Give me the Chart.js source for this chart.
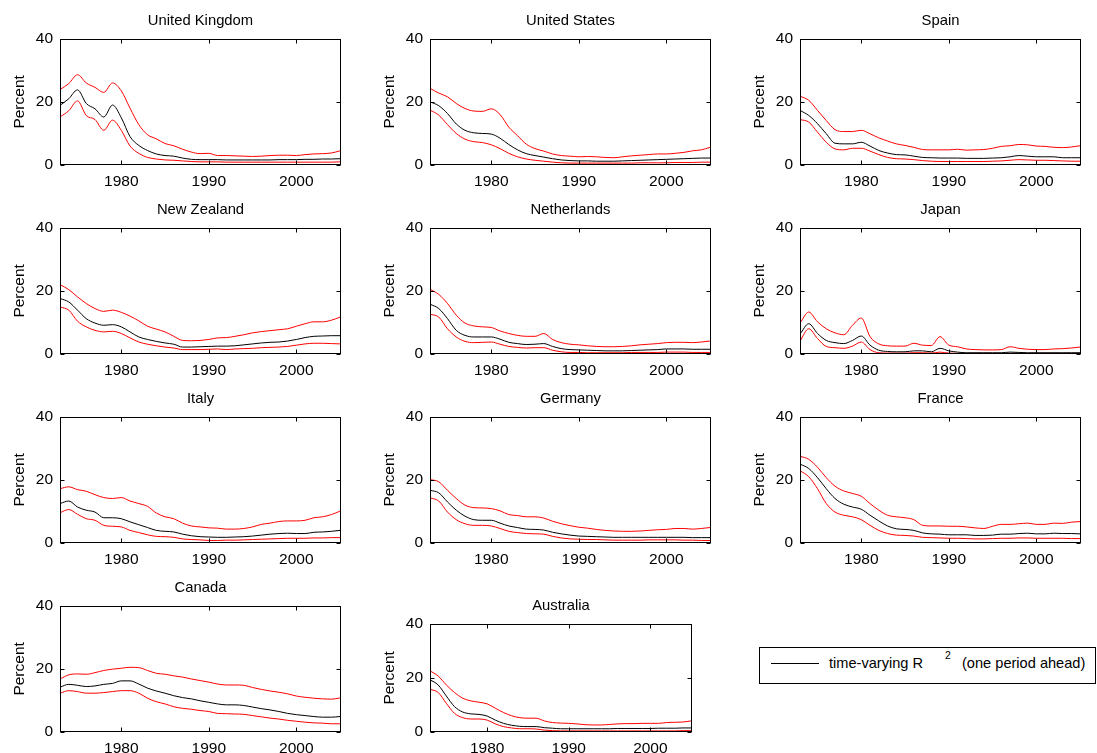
<!DOCTYPE html>
<html>
<head>
<meta charset="utf-8">
<script src="https://cdn.jsdelivr.net/npm/chart.js@4.4.1/dist/chart.umd.min.js"></script>
<style>
html, body { margin:0; padding:0; background:#fff; width:1097px; height:753px; overflow:hidden; position:relative; }
canvas { position:absolute; }
#legend { position:absolute; left:759px; top:647px; width:335px; height:35px; border:1px solid #000;
  font-family:"Liberation Sans", Arial, sans-serif; color:#000; }
#legend span { position:absolute; white-space:nowrap; }
</style>
</head>
<body>
<div id="legend">
  <div style="position:absolute;left:11px;top:15px;width:48px;height:1px;background:#000"></div>
  <span style="left:69px;top:7px;font-size:14.6px;">time-varying R</span>
  <span style="left:185px;top:1px;font-size:10.5px;">2</span>
  <span style="left:202px;top:7px;font-size:14.6px;">(one period ahead)</span>
</div>
<script>
// ---------------- data ----------------
const years = [1973,1974,1975,1976,1977,1978,1979,1980,1981,1982,1983,1984,1985,1986,1987,1988,1989,
               1990,1991,1992,1993,1994,1995,1996,1997,1998,1999,2000,2001,2002,2003,2004,2005];
const xTickValues = [1980, 1990, 2000];
const yTickValues = [0, 20, 40];

const ukHi  = [23.9,25.8,28.6,26.0,24.6,23.0,26.0,23.5,18.0,12.8,9.6,8.3,6.8,6.1,5.0,4.1,3.6,3.7,3.0,3.0,2.9,2.8,2.7,2.8,3.0,3.1,3.1,3.0,3.3,3.5,3.6,3.8,4.5];
const ukMid = [18.9,21.0,23.8,19.5,17.8,15.2,19.0,15.0,9.0,6.2,4.6,3.5,3.0,2.8,2.2,1.8,1.7,1.7,1.7,1.6,1.6,1.6,1.6,1.6,1.6,1.7,1.7,1.7,1.8,1.8,1.9,1.9,2.0];
const ukLo  = [15.2,17.2,20.3,15.7,14.4,11.0,14.2,11.0,6.0,3.7,2.4,1.9,1.6,1.5,1.3,1.1,1.0,1.0,1.0,0.9,0.9,0.9,0.9,0.9,0.9,0.9,0.9,0.9,0.9,0.9,0.9,0.9,1.0];

const usHi  = [24.3,22.8,21.6,19.5,17.9,17.1,17.0,17.8,16.0,12.0,9.3,6.6,5.2,4.4,3.5,3.0,2.8,2.6,2.7,2.6,2.4,2.3,2.6,2.9,3.1,3.3,3.5,3.5,3.7,4.0,4.5,4.8,5.6];
const usMid = [20.0,18.8,16.3,13.0,11.0,10.2,10.0,9.8,8.5,6.5,4.8,3.6,3.0,2.5,2.0,1.6,1.4,1.3,1.3,1.2,1.2,1.2,1.3,1.4,1.5,1.6,1.7,1.8,1.9,2.0,2.1,2.2,2.2];
const usLo  = [17.4,15.8,12.8,10.0,8.2,7.4,7.1,6.4,5.2,3.7,2.6,1.9,1.5,1.2,0.9,0.7,0.6,0.6,0.6,0.6,0.6,0.6,0.6,0.6,0.7,0.7,0.7,0.7,0.8,0.8,0.8,0.9,0.9];

const esHi  = [21.8,20.5,17.3,14.1,11.2,10.6,10.6,11.0,9.9,8.6,7.6,6.7,6.2,5.6,4.9,4.8,4.8,4.8,5.0,4.7,4.8,4.9,5.3,5.9,6.1,6.5,6.4,6.0,5.9,5.6,5.5,5.7,6.1];
const esMid = [17.3,15.7,13.1,9.9,6.9,6.7,6.7,7.2,6.0,4.6,3.8,3.3,3.2,2.8,2.4,2.3,2.2,2.2,2.2,2.1,2.1,2.1,2.2,2.3,2.6,3.0,2.8,2.6,2.6,2.6,2.3,2.3,2.3];
const esLo  = [14.4,13.6,10.4,7.2,5.1,4.8,5.3,5.3,4.4,3.3,2.4,2.0,1.9,1.7,1.4,1.2,1.1,1.1,1.1,1.1,1.1,1.1,1.2,1.3,1.5,1.7,1.6,1.5,1.5,1.4,1.3,1.2,1.2];

const nzHi  = [22.0,20.4,18.1,16.0,14.4,13.5,13.9,13.2,12.0,10.5,8.8,7.9,7.0,5.6,4.3,4.2,4.3,4.6,5.1,5.2,5.6,6.1,6.7,7.1,7.4,7.7,8.0,8.8,9.6,10.2,10.2,10.7,11.7];
const nzMid = [17.6,16.5,13.9,11.2,9.8,9.1,9.3,8.6,7.0,5.4,4.6,4.0,3.5,3.1,2.2,2.2,2.3,2.4,2.5,2.5,2.6,2.9,3.2,3.5,3.7,3.8,4.1,4.6,5.2,5.6,5.7,5.8,5.8];
const nzLo  = [14.9,13.9,10.4,8.6,7.5,7.0,7.2,6.5,5.1,3.8,3.1,2.6,2.2,1.9,1.4,1.4,1.4,1.5,1.6,1.4,1.6,1.7,1.8,2.0,2.1,2.2,2.4,2.8,3.2,3.4,3.4,3.3,3.2];

const nlHi  = [20.5,18.9,16.0,12.3,9.8,8.9,8.6,8.4,7.3,6.5,5.9,5.6,5.6,6.5,4.6,3.6,3.1,2.9,2.6,2.4,2.3,2.3,2.4,2.6,2.9,3.1,3.3,3.6,3.7,3.7,3.6,3.8,4.1];
const nlMid = [15.8,14.4,11.2,7.5,5.9,5.4,5.4,5.4,4.7,3.7,3.3,3.0,3.1,3.3,2.4,1.7,1.4,1.3,1.2,1.1,1.0,1.0,1.0,1.1,1.2,1.3,1.4,1.6,1.6,1.6,1.5,1.5,1.5];
const nlLo  = [12.6,11.7,8.0,5.4,4.0,3.6,3.7,3.8,3.1,2.4,2.1,1.9,2.0,2.0,1.2,0.7,0.5,0.5,0.4,0.4,0.4,0.4,0.4,0.5,0.5,0.5,0.5,0.6,0.6,0.6,0.5,0.5,0.5];

const jpHi  = [9.8,13.3,10.2,8.0,6.7,6.1,9.1,11.4,5.5,3.2,2.6,2.5,2.5,3.4,2.8,2.7,5.5,2.8,2.3,1.6,1.4,1.3,1.3,1.4,2.3,1.8,1.5,1.4,1.4,1.6,1.7,1.9,2.2];
const jpMid = [6.3,9.6,6.5,4.3,3.6,3.3,4.3,5.7,2.8,1.2,0.8,0.7,0.7,1.0,1.0,0.7,1.8,1.0,0.6,0.4,0.4,0.4,0.4,0.4,0.6,0.5,0.4,0.4,0.4,0.4,0.4,0.4,0.4];
const jpLo  = [4.1,8.0,4.9,2.4,2.0,1.8,2.5,3.8,1.4,0.4,0.3,0.3,0.3,0.4,0.4,0.3,0.6,0.3,0.2,0.2,0.2,0.2,0.2,0.2,0.2,0.2,0.2,0.2,0.2,0.2,0.2,0.2,0.2];

const itHi  = [17.2,17.8,16.9,16.4,15.3,14.4,14.1,14.4,13.3,12.5,11.6,9.5,8.3,7.7,6.3,5.4,5.1,4.8,4.7,4.4,4.4,4.6,5.1,5.9,6.3,6.8,7.0,7.0,7.2,8.0,8.3,9.0,10.1];
const itMid = [12.5,13.3,11.4,10.4,9.8,8.0,8.0,7.7,6.7,5.8,4.9,4.0,3.7,3.5,2.8,2.3,2.0,1.9,1.8,1.8,1.9,2.0,2.2,2.5,2.8,3.0,3.1,3.0,3.0,3.4,3.5,3.7,4.0];
const itLo  = [9.6,10.6,9.1,7.7,7.2,5.6,5.3,5.1,4.0,3.3,2.6,2.1,2.0,1.8,1.3,1.1,1.0,0.8,0.8,0.9,0.9,1.0,1.1,1.2,1.3,1.4,1.5,1.5,1.5,1.6,1.6,1.7,1.7];

const deHi  = [20.1,19.4,16.7,14.1,12.0,11.2,11.1,10.9,10.2,9.0,8.7,8.3,8.3,7.9,6.9,6.1,5.5,5.0,4.7,4.3,4.0,3.8,3.7,3.7,3.8,4.0,4.2,4.3,4.6,4.6,4.4,4.6,4.9];
const deMid = [16.7,15.9,13.0,10.4,8.5,7.4,7.2,7.2,6.3,5.4,4.9,4.4,4.3,4.1,3.4,2.9,2.5,2.2,2.1,2.0,1.9,1.8,1.8,1.8,1.8,1.8,1.8,1.8,1.8,1.8,1.7,1.7,1.7];
const deLo  = [14.3,13.3,9.8,7.4,6.1,5.6,5.6,5.4,4.6,3.7,3.3,3.0,2.9,2.8,2.1,1.6,1.3,1.2,1.1,1.1,1.0,0.9,0.9,0.9,0.9,1.0,1.0,1.0,1.0,0.9,0.9,0.8,0.8];

const frHi  = [27.5,26.5,24.0,20.7,18.0,16.5,15.7,14.8,12.5,10.4,8.8,8.3,8.0,7.4,5.6,5.4,5.4,5.3,5.3,5.1,4.8,4.6,5.3,5.9,5.9,6.1,6.3,5.9,5.9,6.3,6.2,6.6,6.8];
const frMid = [25.0,23.6,20.7,17.2,14.1,12.3,11.4,10.7,8.8,7.0,5.4,4.5,4.3,4.0,3.2,2.9,2.8,2.6,2.6,2.6,2.4,2.4,2.5,2.8,2.8,3.0,3.1,2.9,2.9,3.1,3.0,3.0,2.9];
const frLo  = [22.9,21.0,17.2,12.5,9.8,8.8,8.3,7.4,5.6,4.0,3.0,2.5,2.4,2.2,1.8,1.7,1.6,1.5,1.5,1.4,1.3,1.3,1.4,1.5,1.5,1.6,1.6,1.5,1.5,1.5,1.5,1.4,1.4];

const caHi  = [16.8,18.1,18.4,18.3,18.8,19.5,19.9,20.2,20.5,20.4,19.5,18.6,18.3,17.8,17.4,16.8,16.3,15.8,15.2,14.9,14.9,14.8,14.1,13.5,13.0,12.6,12.1,11.4,11.0,10.7,10.5,10.4,10.8];
const caMid = [14.2,15.1,14.8,14.4,14.6,15.1,15.4,16.2,16.2,15.2,13.9,13.0,12.3,11.5,10.9,10.5,9.9,9.4,8.9,8.6,8.6,8.4,7.9,7.4,7.0,6.5,5.9,5.5,5.2,4.9,4.7,4.7,4.9];
const caLo  = [12.3,13.1,12.8,12.3,12.3,12.5,12.8,13.1,13.1,12.3,10.7,9.6,8.9,8.0,7.5,7.2,6.8,6.5,5.9,5.8,5.7,5.6,5.2,4.8,4.4,4.1,3.7,3.4,3.1,2.9,2.8,2.6,2.6];

const auHi  = [22.6,20.7,17.4,14.6,12.5,11.5,11.0,10.4,8.8,7.2,6.0,5.3,5.1,5.1,4.1,3.5,3.3,3.2,3.0,2.7,2.6,2.6,2.8,3.0,3.1,3.1,3.2,3.2,3.2,3.5,3.6,3.7,4.1];
const auMid = [19.3,17.4,13.3,9.4,7.4,6.7,6.5,5.9,4.4,3.2,2.5,2.1,2.0,2.0,1.6,1.4,1.2,1.2,1.2,1.2,1.2,1.2,1.2,1.3,1.3,1.3,1.3,1.3,1.4,1.4,1.4,1.5,1.5];
const auLo  = [15.8,14.6,10.6,6.9,5.3,4.8,4.8,4.4,3.0,2.0,1.5,1.2,1.2,1.1,0.7,0.5,0.4,0.4,0.4,0.4,0.4,0.4,0.4,0.4,0.4,0.4,0.4,0.4,0.4,0.4,0.4,0.5,0.5];

const countryNames = ['United Kingdom','United States','Spain','New Zealand','Netherlands','Japan',
                      'Italy','Germany','France','Canada','Australia'];
const hiSeries  = [ukHi, usHi, esHi, nzHi, nlHi, jpHi, itHi, deHi, frHi, caHi, auHi];
const midSeries = [ukMid, usMid, esMid, nzMid, nlMid, jpMid, itMid, deMid, frMid, caMid, auMid];
const loSeries  = [ukLo, usLo, esLo, nzLo, nlLo, jpLo, itLo, deLo, frLo, caLo, auLo];

// ---------------- layout (plot-area boxes) ----------------
const boxes = [
  {l:60, t:39, w:281, h:126}, {l:430, t:39, w:281, h:126}, {l:800, t:39, w:281, h:126},
  {l:60, t:228, w:281, h:126}, {l:430, t:228, w:281, h:126}, {l:800, t:228, w:281, h:126},
  {l:60, t:417, w:281, h:126}, {l:430, t:417, w:281, h:126}, {l:800, t:417, w:281, h:126},
  {l:60, t:606, w:281, h:126}, {l:430, t:624, w:262, h:108}
];
const LEFT_M = 60, TOP_M = 39, RIGHT_M = 8, BOTTOM_M = 28;
const FAMILY = '"Liberation Sans", Arial, Helvetica, sans-serif';

const boxTicks = {
  id: 'boxTicks',
  afterDraw(chart) {
    const {ctx, chartArea: a, scales: {x, y}} = chart;
    ctx.save();
    ctx.strokeStyle = '#000';
    ctx.lineWidth = 1;
    const L = Math.round(a.left) + 0.5, R = Math.round(a.right) - 0.5;
    const T = Math.round(a.top) + 0.5, B = Math.round(a.bottom) - 0.5;
    ctx.strokeRect(L, T, R - L, B - T);
    ctx.beginPath();
    xTickValues.forEach(v => {
      const px = Math.round(x.getPixelForValue(v)) + 0.5;
      ctx.moveTo(px, B); ctx.lineTo(px, B - 4);
      ctx.moveTo(px, T); ctx.lineTo(px, T + 4);
    });
    yTickValues.forEach(v => {
      const py = Math.round(y.getPixelForValue(v)) + 0.5;
      ctx.moveTo(L, py); ctx.lineTo(L + 4, py);
      ctx.moveTo(R, py); ctx.lineTo(R - 4, py);
    });
    ctx.stroke();
    ctx.restore();
  }
};

function pts(arr) { return years.map((yr, i) => ({x: yr, y: arr[i]})); }

countryNames.forEach((name, k) => {
  const b = boxes[k];
  const cv = document.createElement('canvas');
  cv.width = LEFT_M + b.w + RIGHT_M;
  cv.height = TOP_M + b.h + BOTTOM_M;
  cv.style.left = (b.l - LEFT_M) + 'px';
  cv.style.top = (b.t - TOP_M) + 'px';
  document.body.appendChild(cv);
  const line = (arr, color) => ({
    data: pts(arr), borderColor: color, borderWidth: 1, pointRadius: 0,
    cubicInterpolationMode: 'monotone', fill: false
  });
  new Chart(cv, {
    type: 'line',
    data: { datasets: [ line(midSeries[k], '#000000'), line(hiSeries[k], '#ff0000'), line(loSeries[k], '#ff0000') ] },
    options: {
      responsive: false, animation: false, devicePixelRatio: 1,
      layout: { padding: { left: 0, right: RIGHT_M, top: 0, bottom: 0 } },
      plugins: {
        legend: { display: false }, tooltip: { enabled: false },
        title: { display: true, text: name, color: '#000', fullSize: false,
                 font: { family: FAMILY, size: 14.8, weight: 'normal' }, padding: { top: 12, bottom: 9 } }
      },
      scales: {
        x: {
          type: 'linear', min: 1973, max: 2005.1,
          grid: { display: false, drawTicks: false }, border: { display: false },
          afterBuildTicks: s => { s.ticks = xTickValues.map(v => ({ value: v })); },
          ticks: { color: '#000', font: { family: FAMILY, size: 15.5 }, padding: 7, maxRotation: 0,
                   callback: v => String(v) },
          afterFit: s => { s.height = BOTTOM_M; }
        },
        y: {
          min: 0, max: 40,
          grid: { display: false, drawTicks: false }, border: { display: false },
          afterBuildTicks: s => { s.ticks = yTickValues.map(v => ({ value: v })); },
          ticks: { color: '#000', font: { family: FAMILY, size: 15.5 }, padding: 7 },
          title: { display: true, text: 'Percent', color: '#000',
                   font: { family: FAMILY, size: 15.5 }, padding: { top: 10, bottom: 0 } },
          afterFit: s => { s.width = LEFT_M; }
        }
      }
    },
    plugins: [boxTicks]
  });
});
</script>
</body>
</html>
